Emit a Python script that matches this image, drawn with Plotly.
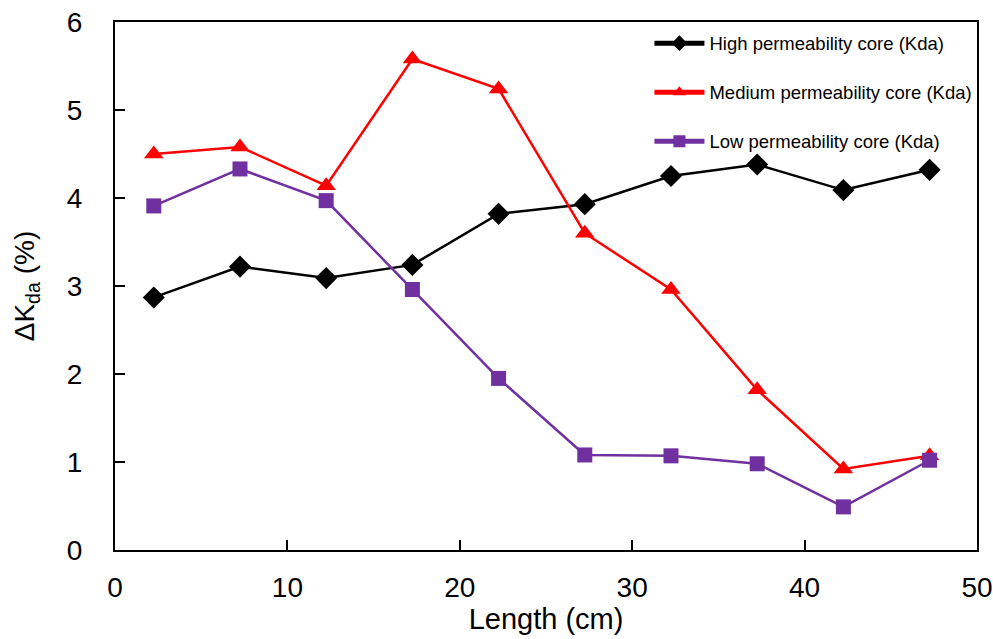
import plotly.graph_objects as go

length_cm = [2.25, 7.25, 12.25, 17.25, 22.25, 27.25, 32.25, 37.25, 42.25, 47.25]
high_kda = [2.87, 3.22, 3.09, 3.24, 3.82, 3.93, 4.25, 4.38, 4.09, 4.32]
medium_kda = [4.50, 4.58, 4.14, 5.58, 5.24, 3.60, 2.96, 1.82, 0.92, 1.07]
low_kda = [3.91, 4.33, 3.97, 2.96, 1.95, 1.08, 1.07, 0.98, 0.49, 1.02]

names = ["High permeability core (Kda)", "Medium permeability core (Kda)", "Low permeability core (Kda)"]

fig = go.Figure()
fig.add_trace(go.Scatter(x=length_cm, y=high_kda, name=names[0], mode="lines+markers",
                         line=dict(color="black", width=2.5),
                         marker=dict(symbol="diamond", size=17, color="black"),
                         legendgroup="a"))
fig.add_trace(go.Scatter(x=length_cm, y=medium_kda, name=names[1], mode="lines+markers",
                         line=dict(color="#FF0000", width=2.5),
                         marker=dict(symbol="triangle-up", size=17, color="#FF0000"),
                         legendgroup="b"))
fig.add_trace(go.Scatter(x=length_cm, y=low_kda, name=names[2], mode="lines+markers",
                         line=dict(color="#7030A0", width=2.5),
                         marker=dict(symbol="square", size=15, color="#7030A0"),
                         legendgroup="c"))

font_family = "Liberation Sans, Arial, sans-serif"
fig.update_layout(
    width=993, height=639,
    margin=dict(l=115, r=16, t=22, b=89),
    paper_bgcolor="white", plot_bgcolor="white",
    font=dict(family=font_family, color="black", size=28),
    showlegend=True,
    legend=dict(x=0.62, y=0.995, xanchor="left", yanchor="top",
                font=dict(size=18.5, family=font_family),
                bgcolor="rgba(0,0,0,0)", itemsizing="constant", itemwidth=50,
                tracegroupgap=22, traceorder="grouped"),
    xaxis=dict(range=[0, 50], dtick=10, showgrid=False, zeroline=False,
               showline=True, linecolor="black", linewidth=2, mirror=True,
               ticks="inside", ticklen=10, tickwidth=1.5, tickcolor="black",
               tickfont=dict(size=28), ticklabelstandoff=11, automargin=False,
               title=dict(text="Length (cm)", font=dict(size=29), standoff=2)),
    yaxis=dict(range=[0, 6], dtick=1, showgrid=False, zeroline=False,
               showline=True, linecolor="black", linewidth=2, mirror=True,
               ticks="inside", ticklen=10, tickwidth=1.5, tickcolor="black",
               tickfont=dict(size=28), ticklabelstandoff=25, automargin=False,
               title=dict(text="ΔK<sub>da</sub> (%)", font=dict(size=28), standoff=24)),
)

fig.write_html("out.html")
